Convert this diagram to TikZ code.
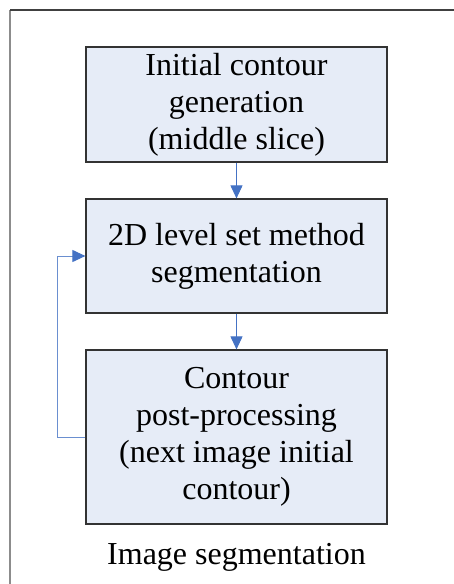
\documentclass[tikz,border=0pt]{standalone}
\usepackage{fontspec}
\setmainfont{Liberation Serif}
\usetikzlibrary{arrows.meta}
\definecolor{boxfill}{HTML}{E6ECF7}
\definecolor{arrowblue}{HTML}{4472C4}
\definecolor{loopblue}{HTML}{6A8FD0}
\begin{document}
\begin{tikzpicture}[x=1pt,y=-1pt,
  stepbox/.style={draw=black!80, line width=1.2pt, fill=boxfill, minimum width=301pt,
    inner sep=0pt, align=center, font=\fontsize{32}{37}\selectfont},
  flow/.style={draw=arrowblue, line width=1pt, -{Triangle[length=13pt,width=12pt,color=arrowblue]}},
  framey/.style={line width=1.5pt}]
\useasboundingbox (0,0) rectangle (454,584);
\draw[framey, draw=black!45] (10,584) -- (10,10);
\draw[framey, draw=black!75] (10,10) -- (454,10);
\node[stepbox, minimum height=115pt] (b1) at (236.5,104.5) {Initial contour\\generation\\(middle slice)};
\node[stepbox, minimum height=114pt] (b2) at (236.5,256) {2D level set method\\segmentation};
\node[stepbox, minimum height=174pt] (b3) at (236.5,437) {Contour\\post-processing\\(next image initial\\contour)};
\node[font=\fontsize{32}{37}\selectfont, anchor=base] (cap) at (236.5,564) {Image segmentation};
\draw[flow] (b1) -- (b2);
\draw[flow] (b2) -- (b3);
\coordinate (lp) at (57,0);
\draw[flow, draw=loopblue] (b3.west) -- (b3.west -| lp) |- (b2.west);
\end{tikzpicture}
\end{document}
